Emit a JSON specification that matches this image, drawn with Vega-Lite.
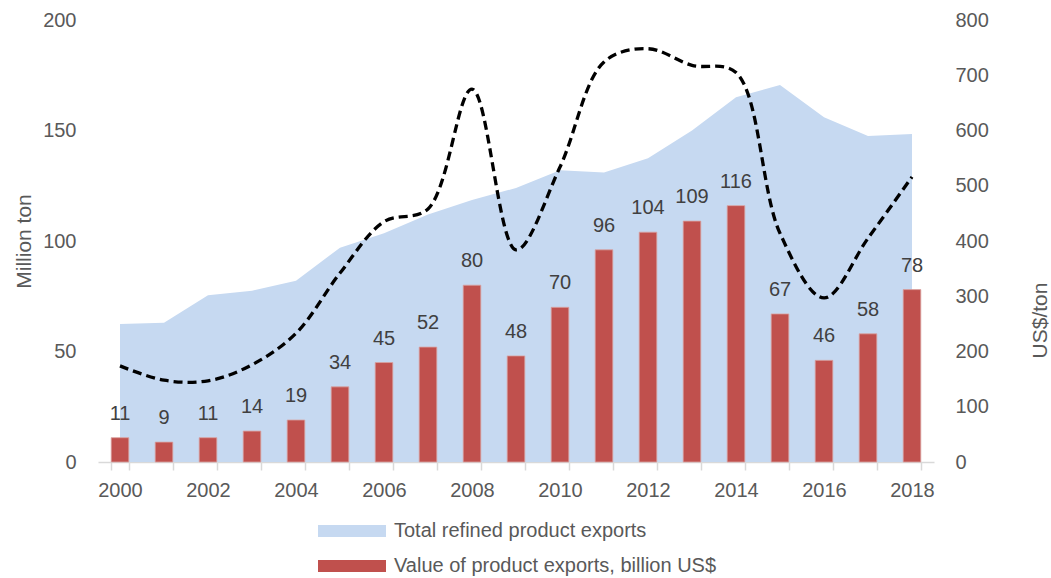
{
  "$schema": "https://vega.github.io/schema/vega-lite/v6.json",
  "width": 836,
  "height": 442,
  "autosize": {"type": "none"},
  "padding": {"left": 98, "top": 20, "right": 117, "bottom": 116},
  "background": "white",
  "config": {
    "font": "Liberation Sans",
    "view": {"stroke": null},
    "axis": {"labelFont": "Liberation Sans", "titleFont": "Liberation Sans", "labelFontSize": 20, "titleFontSize": 21, "labelColor": "#595959", "titleColor": "#595959", "titleFontWeight": "normal", "grid": false}
  },
  "data": {
    "values": [
      {"year": 2000, "exports": 62.4, "value": 11, "price": 174},
      {"year": 2001, "exports": 63, "value": 9, "price": 148},
      {"year": 2002, "exports": 75.5, "value": 11, "price": 147},
      {"year": 2003, "exports": 77.5, "value": 14, "price": 176},
      {"year": 2004, "exports": 82, "value": 19, "price": 233},
      {"year": 2005, "exports": 97, "value": 34, "price": 342},
      {"year": 2006, "exports": 103.5, "value": 45, "price": 435},
      {"year": 2007, "exports": 112, "value": 52, "price": 458},
      {"year": 2008, "exports": 118.5, "value": 80, "price": 675},
      {"year": 2009, "exports": 124, "value": 48, "price": 384},
      {"year": 2010, "exports": 132, "value": 70, "price": 534},
      {"year": 2011, "exports": 131, "value": 96, "price": 724},
      {"year": 2012, "exports": 137.5, "value": 104, "price": 748},
      {"year": 2013, "exports": 150, "value": 109, "price": 718},
      {"year": 2014, "exports": 165, "value": 116, "price": 705},
      {"year": 2015, "exports": 170.6, "value": 67, "price": 414},
      {"year": 2016, "exports": 156, "value": 46, "price": 297},
      {"year": 2017, "exports": 147.5, "value": 58, "price": 405},
      {"year": 2018, "exports": 148.4, "value": 78, "price": 516}
    ]
  },
  "encoding": {
    "x": {
      "field": "year", "type": "ordinal",
      "scale": {"paddingInner": 0.6, "paddingOuter": 0.3},
      "axis": {
        "title": null, "labelAngle": 0, "tickBand": "extent", "tickSize": 8,
        "tickColor": "#D9D9D9", "domainColor": "#D9D9D9", "domainWidth": 1.5, "tickWidth": 1.5,
        "labelPadding": 10,
        "labelExpr": "datum.value % 2 == 0 ? datum.label : ''"
      }
    }
  },
  "layer": [
    {
      "layer": [
        {
          "mark": {"type": "area", "color": "#C6D9F1"},
          "encoding": {
            "x": {"field": "year", "type": "ordinal", "bandPosition": 0.5},
            "y": {"field": "exports", "type": "quantitative", "scale": {"domain": [0, 200]},
              "axis": {"title": "Million ton", "values": [0, 50, 100, 150, 200], "domain": false, "ticks": false, "labelPadding": 22, "titlePadding": 8}},
            "color": {"datum": "Total refined product exports", "type": "nominal",
              "scale": {"domain": ["Total refined product exports", "Value of product exports, billion US$"], "range": ["#C6D9F1", "#C0504D"]},
              "legend": {
                "title": null, "orient": "none", "legendX": 244, "legendY": 501, "direction": "vertical",
                "symbolType": "M-3.4,-0.6L3.4,-0.6L3.4,0.6L-3.4,0.6Z", "symbolSize": 400, "symbolStrokeWidth": 0,
                "labelFont": "Liberation Sans", "labelFontSize": 20, "labelColor": "#595959", "labelOffset": 32,
                "rowPadding": 15, "labelLimit": 500, "padding": 0
              }}
          }
        },
        {
          "mark": {"type": "bar", "stroke": "#D9A3A2", "strokeWidth": 0.8},
          "encoding": {
            "y": {"field": "value", "type": "quantitative", "scale": {"domain": [0, 200]}},
            "color": {"datum": "Value of product exports, billion US$", "type": "nominal"}
          }
        },
        {
          "mark": {"type": "text", "baseline": "alphabetic", "dy": -18, "fontSize": 20, "color": "#404040", "font": "Liberation Sans"},
          "encoding": {
            "y": {"field": "value", "type": "quantitative"},
            "text": {"field": "value", "type": "quantitative"}
          }
        }
      ]
    },
    {
      "mark": {"type": "line", "interpolate": "catmull-rom", "color": "black", "strokeWidth": 3.3, "strokeDash": [9, 5]},
      "encoding": {
        "x": {"field": "year", "type": "ordinal", "bandPosition": 0.5},
        "y": {"field": "price", "type": "quantitative", "scale": {"domain": [0, 800]},
          "axis": {"orient": "right", "title": "US$/ton", "values": [0, 100, 200, 300, 400, 500, 600, 700, 800], "domain": false, "ticks": false, "labelPadding": 21, "titlePadding": 62, "titleAngle": -90, "titleY": 300}}
      }
    }
  ],
  "resolve": {"scale": {"y": "independent"}}
}
